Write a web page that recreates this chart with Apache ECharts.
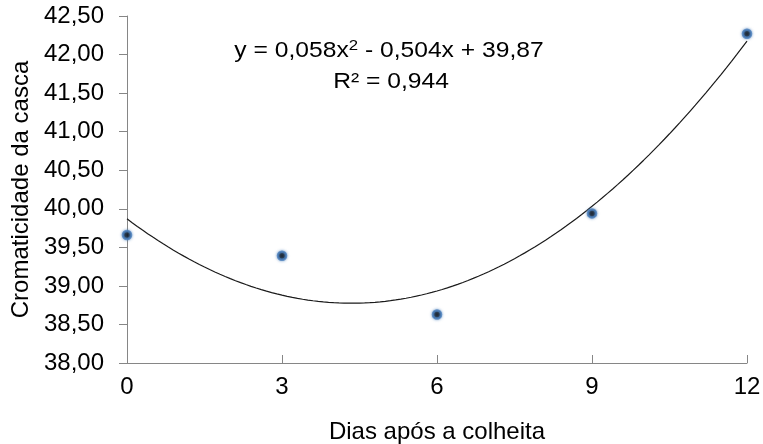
<!DOCTYPE html>
<html>
<head>
<meta charset="utf-8">
<script src="https://cdn.jsdelivr.net/npm/echarts@6/dist/echarts.min.js"></script>
<style>
  html, body { margin: 0; padding: 0; background: #fff; }
  #chart { width: 763px; height: 444px; }
</style>
</head>
<body>
<div id="chart"></div>
<script>
// Days after harvest and the measured peel chroma
const days = [0, 3, 6, 9, 12];
const chroma = [39.66, 39.39, 38.63, 39.94, 42.27];

// Quadratic trend: y = a*x^2 + b*x + c
const trendCoef = [0.058, -0.504, 39.87];
const rSquared = '0,944';

const xTicks = [0, 3, 6, 9, 12];
const yTicks = [38, 38.5, 39, 39.5, 40, 40.5, 41, 41.5, 42, 42.5];

// Trend curve sampled along the x axis
const trendLine = [];
for (let i = 0; i <= 120; i++) {
  const x = i / 10;
  trendLine.push([x, trendCoef[0] * x * x + trendCoef[1] * x + trendCoef[2]]);
}

const FONT = '"Liberation Sans", Arial, sans-serif';
const chart = echarts.init(document.getElementById('chart'), null, { renderer: 'canvas' });

chart.setOption({
  animation: false,
  backgroundColor: '#ffffff',
  grid: { left: 127, right: 16, top: 16, bottom: 81, outerBoundsMode: 'none', containLabel: false },
  xAxis: {
    type: 'value',
    min: xTicks[0],
    max: xTicks[xTicks.length - 1],
    interval: 3,
    name: 'Dias após a colheita',
    nameLocation: 'middle',
    nameGap: 57,
    nameTextStyle: { fontFamily: FONT, fontSize: 24, color: '#000' },
    axisLine: { show: true, lineStyle: { color: '#868686', width: 1 } },
    axisTick: { show: true, inside: true, length: 8, lineStyle: { color: '#868686' } },
    axisLabel: { fontFamily: FONT, fontSize: 24, color: '#000', margin: 12 },
    splitLine: { show: false }
  },
  yAxis: {
    type: 'value',
    min: yTicks[0],
    max: yTicks[yTicks.length - 1],
    interval: 0.5,
    name: 'Cromaticidade da casca',
    nameLocation: 'middle',
    nameGap: 94,
    nameTextStyle: { fontFamily: FONT, fontSize: 24, color: '#000' },
    axisLine: { show: true, lineStyle: { color: '#868686', width: 1 } },
    axisTick: { show: true, length: 8, lineStyle: { color: '#868686' } },
    axisLabel: {
      fontFamily: FONT, fontSize: 24, color: '#000', margin: 23,
      formatter: v => v.toFixed(2).replace('.', ',')
    },
    splitLine: { show: false }
  },
  graphic: [
    {
      type: 'text',
      x: 389,
      y: 51,
      scaleX: 1.12,
      style: {
        text: 'y = 0,058x{sup|2} - 0,504x + 39,87',
        fontFamily: FONT, fontSize: 22, fill: '#000',
        align: 'center', verticalAlign: 'middle',
        rich: {
          sup: { fontFamily: FONT, fontSize: 15, fill: '#000', verticalAlign: 'top', lineHeight: 26 }
        }
      }
    },
    {
      type: 'text',
      x: 391,
      y: 82,
      scaleX: 1.12,
      style: {
        text: 'R² = ' + rSquared,
        fontFamily: FONT, fontSize: 22, fill: '#000',
        align: 'center', verticalAlign: 'middle'
      }
    }
  ],
  series: [
    {
      type: 'line',
      data: trendLine,
      showSymbol: false,
      smooth: false,
      lineStyle: { color: '#1a1a1a', width: 1.2 },
      z: 2
    },
    {
      type: 'scatter',
      data: days.map((d, i) => [d, chroma[i]]),
      symbol: 'circle',
      symbolSize: 8,
      itemStyle: {
        color: '#000',
        borderColor: '#4a7ebb',
        borderWidth: 2.5,
        shadowBlur: 3,
        shadowColor: 'rgba(74,126,187,0.8)'
      },
      z: 3
    }
  ]
});
</script>
</body>
</html>
